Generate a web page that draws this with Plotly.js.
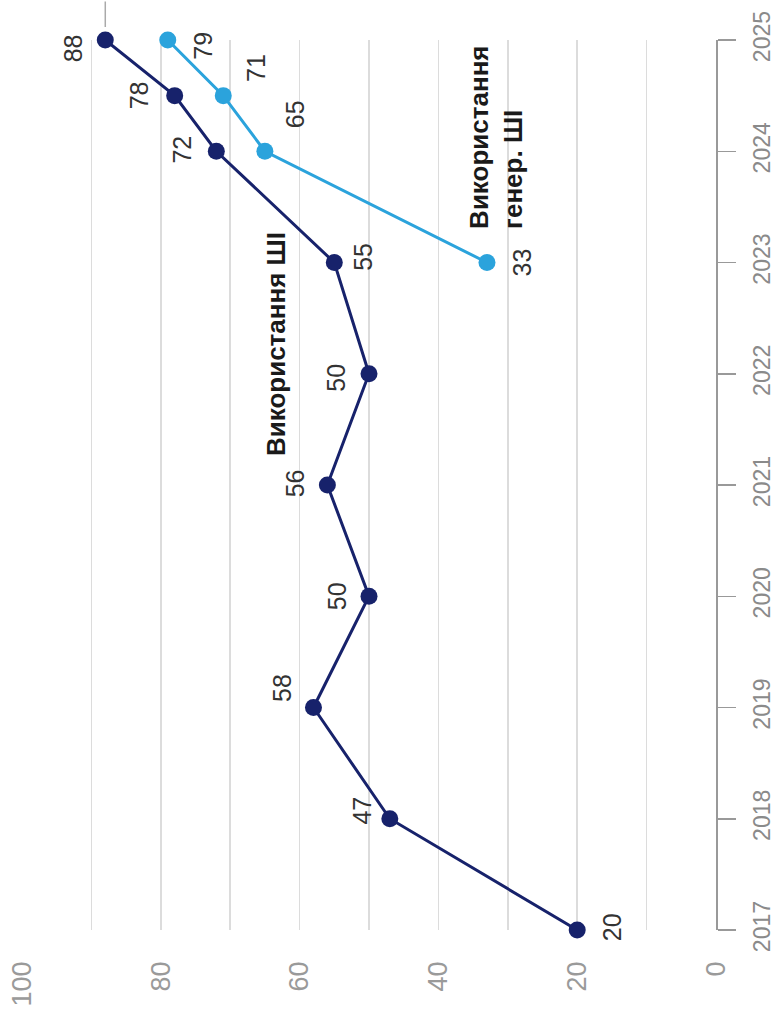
<!DOCTYPE html>
<html>
<head>
<meta charset="utf-8">
<script src="https://cdn.plot.ly/plotly-3.0.1.min.js"></script>
<style>
  html, body { margin: 0; padding: 0; background: #fff; }
  #chart { width: 776px; height: 1010px; }
</style>
</head>
<body>
<div id="chart"></div>
<script>
// ---- data ----
const years = [2017, 2018, 2019, 2020, 2021, 2022, 2023, 2024, 2024.5, 2025];
const aiUse = [20, 47, 58, 50, 56, 50, 55, 72, 78, 88];
const genYears = [2023, 2024, 2024.5, 2025];
const genAiUse = [33, 65, 71, 79];
const yearTicks = [2017, 2018, 2019, 2020, 2021, 2022, 2023, 2024, 2025];
const valueTicks = [0, 20, 40, 60, 80, 100];
const aiName = 'Використання ШІ';
const genName = 'Використання<br>генер. ШІ';

// ---- label placement (pixels, layout only) ----
const aiLabelShift = [[35, 3], [-28, 8], [-32, 20], [-32, 0], [-32, 2], [-33, -4], [28, 6], [-34, 2], [-36, 0], [-32, -8]];
const genLabelShift = [[35, 0], [30, 37], [32, 28], [35, -6]];

const dark = '#17226b';
const light = '#2ba3dc';
const labelFont = { family: 'Liberation Sans, Arial, sans-serif', size: 25, color: '#333333' };

const annotations = [];
aiUse.forEach((v, i) => annotations.push({
  x: v, y: years[i], xref: 'x', yref: 'y', text: String(v), showarrow: false,
  textangle: -90, xanchor: 'center', yanchor: 'middle',
  xshift: aiLabelShift[i][0], yshift: aiLabelShift[i][1], font: labelFont
}));
genAiUse.forEach((v, i) => annotations.push({
  x: v, y: genYears[i], xref: 'x', yref: 'y', text: String(v), showarrow: false,
  textangle: -90, xanchor: 'center', yanchor: 'middle',
  xshift: genLabelShift[i][0], yshift: genLabelShift[i][1], font: labelFont
}));
annotations.push({
  x: 63.5, y: 2022.27, xref: 'x', yref: 'y', text: '<b>' + aiName + '</b>', showarrow: false,
  textangle: -90, xanchor: 'center', yanchor: 'middle',
  font: { family: 'Liberation Sans, Arial, sans-serif', size: 26, color: '#1a1a1a' }
});
annotations.push({
  x: 31.7, y: 2024.12, xref: 'x', yref: 'y', text: '<b>' + genName + '</b>', showarrow: false,
  textangle: -90, xanchor: 'center', yanchor: 'middle', align: 'left',
  font: { family: 'Liberation Sans, Arial, sans-serif', size: 26, color: '#1a1a1a' }
});
// callout line above the last point
annotations.push({
  x: aiUse[aiUse.length - 1], y: years[years.length - 1], xref: 'x', yref: 'y', text: '',
  showarrow: true, arrowhead: 0, arrowwidth: 1.5, arrowcolor: '#aaaaaa',
  ax: 0, ay: -42, standoff: 13
});

const traces = [
  {
    x: aiUse, y: years, type: 'scatter', mode: 'lines+markers', cliponaxis: false,
    line: { color: dark, width: 3 }, marker: { color: dark, size: 17 }, hoverinfo: 'x+y'
  },
  {
    x: genAiUse, y: genYears, type: 'scatter', mode: 'lines+markers', cliponaxis: false,
    line: { color: light, width: 3 }, marker: { color: light, size: 17 }, hoverinfo: 'x+y'
  }
];

const layout = {
  width: 776, height: 1010,
  margin: { l: 22, r: 60, t: 40, b: 80 },
  paper_bgcolor: '#ffffff', plot_bgcolor: '#ffffff',
  showlegend: false,
  xaxis: {
    range: [100, 0], tickvals: valueTicks, ticktext: valueTicks.map(String),
    tickangle: -90, ticks: '', ticklabelstandoff: 25,
    tickfont: { family: 'Liberation Sans, Arial, sans-serif', size: 27, color: '#9a9a9a' },
    showgrid: true, gridcolor: '#dcdcdc', gridwidth: 1.5,
    minor: { dtick: 10, tick0: 0, showgrid: true, gridcolor: '#dcdcdc', gridwidth: 1.5, ticks: '' },
    zeroline: false, showline: false, fixedrange: true
  },
  yaxis: {
    range: [2017, 2025], side: 'right', tickvals: yearTicks, ticktext: yearTicks.map(String),
    tickangle: -90, ticks: 'outside', ticklen: 18, tickwidth: 1.5, tickcolor: '#999999',
    ticklabelstandoff: 6,
    tickfont: { family: 'Liberation Sans, Arial, sans-serif', size: 23, color: '#8a8a8a' },
    showline: true, linecolor: '#999999', linewidth: 2,
    showgrid: false, zeroline: false, fixedrange: true
  },
  annotations: annotations
};

Plotly.newPlot('chart', traces, layout, { displayModeBar: false, staticPlot: true });
</script>
</body>
</html>
